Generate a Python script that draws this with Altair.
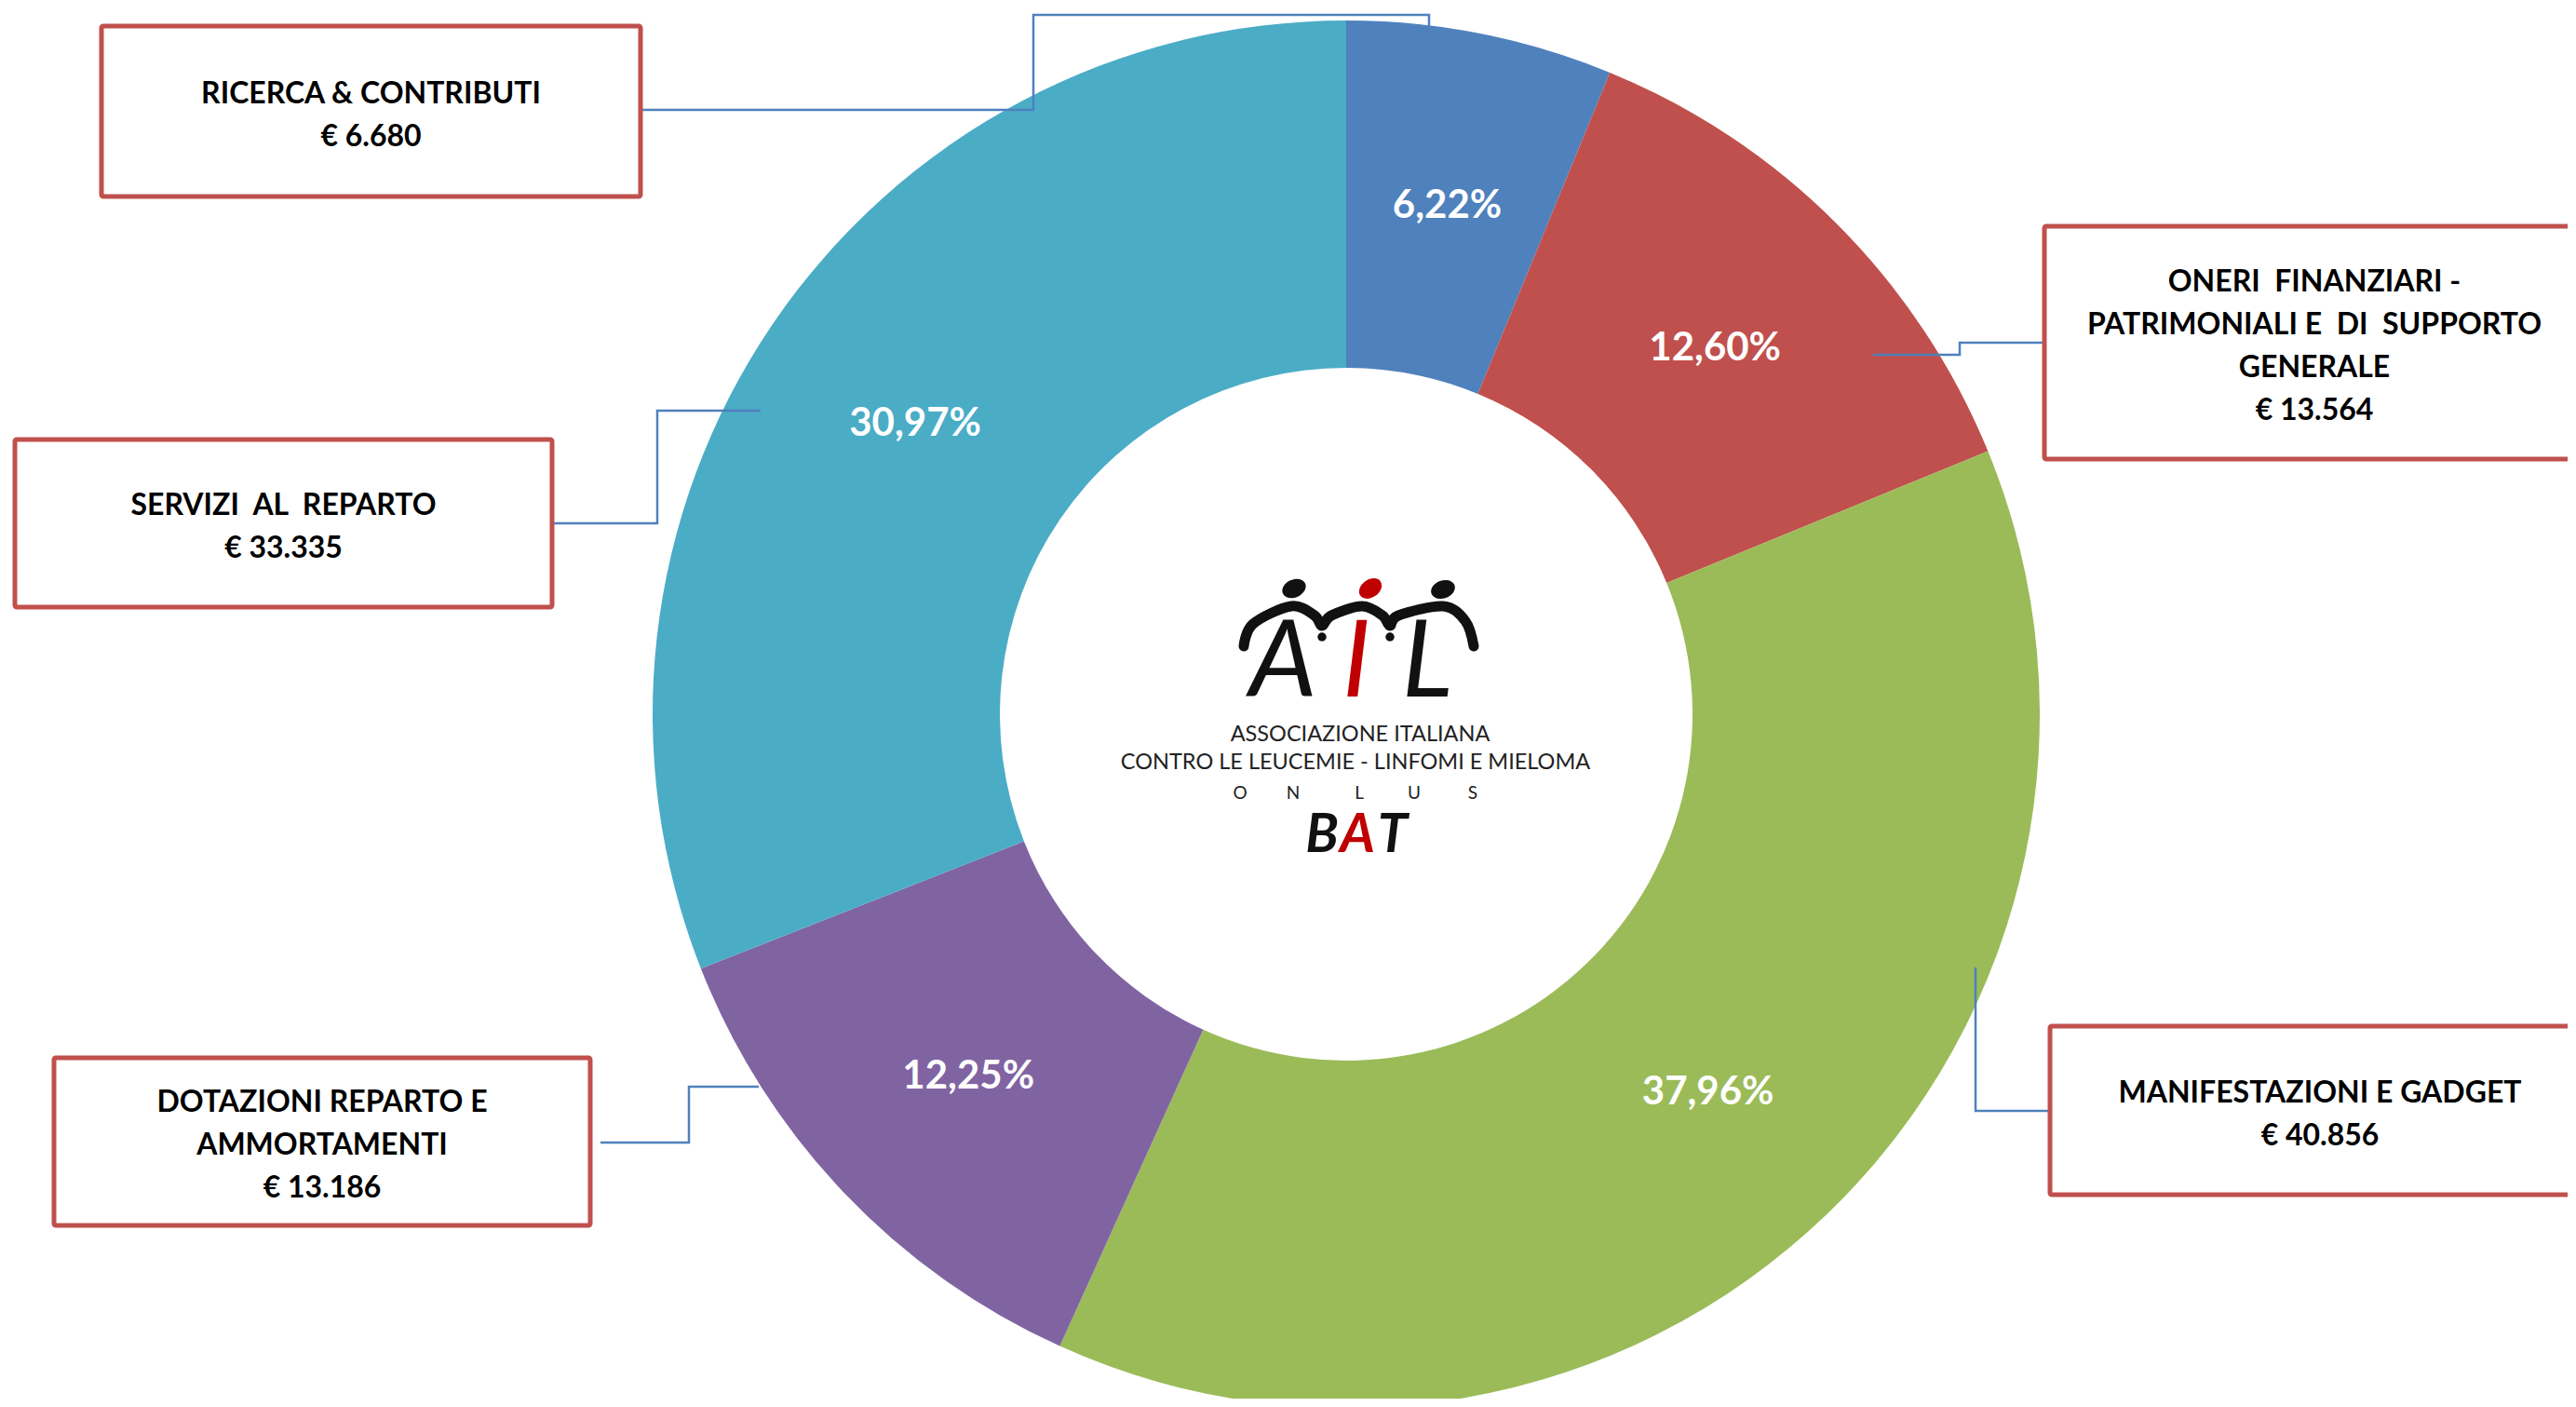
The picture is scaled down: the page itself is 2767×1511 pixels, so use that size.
import altair as alt
import pandas as pd

# ---------------- data ----------------
categories = [
    "RICERCA & CONTRIBUTI",
    "ONERI FINANZIARI - PATRIMONIALI E DI SUPPORTO GENERALE",
    "MANIFESTAZIONI E GADGET",
    "DOTAZIONI REPARTO E AMMORTAMENTI",
    "SERVIZI AL REPARTO",
]
amounts = [6680, 13564, 40856, 13186, 33335]
amount_labels = ["€ 6.680", "€ 13.564", "€ 40.856", "€ 13.186", "€ 33.335"]
pct_labels = ["6,22%", "12,60%", "37,96%", "12,25%", "30,97%"]
box_titles = [
    "RICERCA & CONTRIBUTI",
    "ONERI\u00a0 FINANZIARI -\nPATRIMONIALI E\u00a0 DI\u00a0 SUPPORTO\nGENERALE",
    "MANIFESTAZIONI E GADGET",
    "DOTAZIONI REPARTO E\nAMMORTAMENTI",
    "SERVIZI\u00a0 AL\u00a0 REPARTO",
]
slice_colors = ["#4F81BD", "#C0504D", "#9BBB59", "#8064A2", "#4BACC6"]

logo_lines = ["ASSOCIAZIONE ITALIANA", "CONTRO LE LEUCEMIE - LINFOMI E MIELOMA"]
logo_onlus = ["O", "N", "L", "U", "S"]
logo_mark = ["A", "I", "L"]
logo_mark_colors = ["#111111", "#C00000", "#111111"]
logo_bat = ["B", "A", "T"]
logo_bat_colors = ["#111111", "#C00000", "#111111"]

# ---------------- layout (pixel frame of the canvas) ----------------
W, H = 2750, 1494
CX, CY = 1446, 767
R_OUT, R_IN = 745, 372
R_LABEL = 560
LINE_H = 46
TEXT_SHIFT = 4

box_x = [109, 2196, 2202, 58, 16]
box_x2 = [688, 2776, 2782, 634, 593]
box_y = [28, 243, 1102, 1136, 472]
box_y2 = [211, 493, 1283, 1316, 652]

connectors = [
    [(688, 118), (1110, 118), (1110, 16), (1535, 16), (1535, 125)],
    [(2196, 368), (2105, 368), (2105, 381), (2012, 381)],
    [(2202, 1193), (2122, 1193), (2122, 1039)],
    [(645, 1227), (740, 1227), (740, 1167), (815, 1167)],
    [(593, 562), (706, 562), (706, 441), (817, 441)],
]

logo_line_x = [1461, 1456]
logo_line_y = [796, 826]
onlus_x = [1332, 1389, 1460, 1519, 1582]
onlus_y = 858
mark_x = [1378, 1457, 1533]
mark_y = 748
bat_x = [1420, 1458, 1496]
bat_y = 915
heads_x = [1390, 1472, 1550]
heads_y = [632, 632, 633]
heads_angle = [-25, -35, -20]
heads_color = ["#111111", "#C00000", "#111111"]
arm_pts = [(1336, 694), (1346, 670), (1387, 651), (1412, 661), (1420, 672),
           (1430, 661), (1463, 651), (1485, 661), (1493, 672), (1502, 661),
           (1550, 651), (1574, 667), (1583, 694)]
drip_pts = [(1420, 684), (1493, 684)]

# ---------------- tables ----------------
slices = pd.DataFrame({
    "cat": categories, "amount": amounts, "pct": pct_labels,
    "order": list(range(len(categories))),
})
labels = [t + "\n" + a for t, a in zip(box_titles, amount_labels)]
n_lines = [lab.count("\n") + 1 for lab in labels]
boxes = pd.DataFrame({
    "x": box_x, "x2": box_x2, "y": box_y, "y2": box_y2,
    "xc": [(a + b) / 2 for a, b in zip(box_x, box_x2)],
    # first line position so that the whole block is centred in the box
    "yt": [(a + b) / 2 - (n - 1) * LINE_H / 2 + TEXT_SHIFT
           for a, b, n in zip(box_y, box_y2, n_lines)],
    "label": labels,
})
conn = pd.DataFrame([
    {"cid": i, "seq": j, "x": p[0], "y": p[1]}
    for i, pts in enumerate(connectors) for j, p in enumerate(pts)
])

xs = alt.Scale(domain=[8, 8 + W], nice=False, zero=False)
ys = alt.Scale(domain=[8, 8 + H], nice=False, zero=False, reverse=True)


def X(f="x"):
    return alt.X(f"{f}:Q", scale=xs, axis=None)


def Y(f="y"):
    return alt.Y(f"{f}:Q", scale=ys, axis=None)


color = alt.Color("cat:N", scale=alt.Scale(domain=categories, range=slice_colors), legend=None)

donut = alt.Chart(slices).mark_arc(radius=R_OUT, radius2=R_IN).encode(
    x=alt.X(datum=CX, scale=xs, axis=None),
    y=alt.Y(datum=CY, scale=ys, axis=None),
    theta=alt.Theta("amount:Q", stack=True),
    order=alt.Order("order:Q"),
    color=color,
)

pct_text = alt.Chart(slices).mark_text(
    radius=R_LABEL, font="Lato", fontWeight="bold", fontSize=42, color="white"
).encode(
    x=alt.X(datum=CX, scale=xs, axis=None),
    y=alt.Y(datum=CY + 3, scale=ys, axis=None),
    theta=alt.Theta("amount:Q", stack=True),
    order=alt.Order("order:Q"),
    text="pct:N",
)

conn_lines = alt.Chart(conn).mark_line(color="#4F81BD", strokeWidth=2.5).encode(
    x=X(), y=Y(), detail="cid:N", order="seq:Q"
)

box_rects = alt.Chart(boxes).mark_rect(
    fill="white", stroke="#C0504D", strokeWidth=5, cornerRadius=2
).encode(x=X("x"), x2="x2:Q", y=Y("y"), y2="y2:Q")

box_text = alt.Chart(boxes).mark_text(
    font="Lato", fontWeight="bold", fontSize=32, lineHeight=LINE_H,
    lineBreak="\n", color="black", align="center", baseline="middle"
).encode(x=X("xc"), y=Y("yt"), text="label:N")

# ---------------- logo ----------------
logo_txt = alt.Chart(pd.DataFrame({"t": logo_lines, "x": logo_line_x, "y": logo_line_y})).mark_text(
    font="Lato", fontSize=23.5, color="#222222",
    align="center", baseline="alphabetic"
).encode(x=X(), y=Y(), text="t:N")

onlus = alt.Chart(pd.DataFrame({"t": logo_onlus, "x": onlus_x, "y": [onlus_y] * 5})).mark_text(
    font="Lato", fontSize=19, color="#222222", align="center", baseline="alphabetic"
).encode(x=X(), y=Y(), text="t:N")

mark_letters = alt.Chart(pd.DataFrame({
    "t": logo_mark, "x": mark_x, "y": [mark_y] * 3, "c": logo_mark_colors
})).mark_text(
    font="Lato", fontStyle="italic", fontSize=115, align="center", baseline="alphabetic"
).encode(x=X(), y=Y(), text="t:N", color=alt.Color("c:N", scale=None))

bat = alt.Chart(pd.DataFrame({
    "t": logo_bat, "x": bat_x, "y": [bat_y] * 3, "c": logo_bat_colors
})).mark_text(
    font="Lato", fontStyle="italic", fontWeight="bold", fontSize=58,
    align="center", baseline="alphabetic"
).encode(x=X(), y=Y(), text="t:N", color=alt.Color("c:N", scale=None))

ellipse = "M-1,0A1,0.72 0 1,1 1,0A1,0.72 0 1,1 -1,0Z"
heads = alt.Chart(pd.DataFrame({
    "x": heads_x, "y": heads_y, "a": heads_angle, "c": heads_color
})).mark_point(shape=ellipse, filled=True, size=700, opacity=1).encode(
    x=X(), y=Y(), angle=alt.Angle("a:Q", scale=None), color=alt.Color("c:N", scale=None)
)

arms = alt.Chart(pd.DataFrame({
    "x": [p[0] for p in arm_pts], "y": [p[1] for p in arm_pts], "s": list(range(len(arm_pts)))
})).mark_line(color="#111111", strokeWidth=11, interpolate="cardinal", strokeCap="round").encode(
    x=X(), y=Y(), order="s:Q"
)

drips = alt.Chart(pd.DataFrame({
    "x": [p[0] for p in drip_pts], "y": [p[1] for p in drip_pts]
})).mark_point(shape="circle", filled=True, size=90, color="#111111", opacity=1).encode(x=X(), y=Y())

chart = alt.layer(
    donut, pct_text, conn_lines, box_rects, box_text,
    arms, drips, heads, mark_letters, logo_txt, onlus, bat,
).properties(
    width=W, height=H, padding=0,
    autosize=alt.AutoSizeParams(type="none"),
    background="white",
).configure_view(stroke=None)

chart.save("out.html", embed_options={"renderer": "svg", "actions": False})
